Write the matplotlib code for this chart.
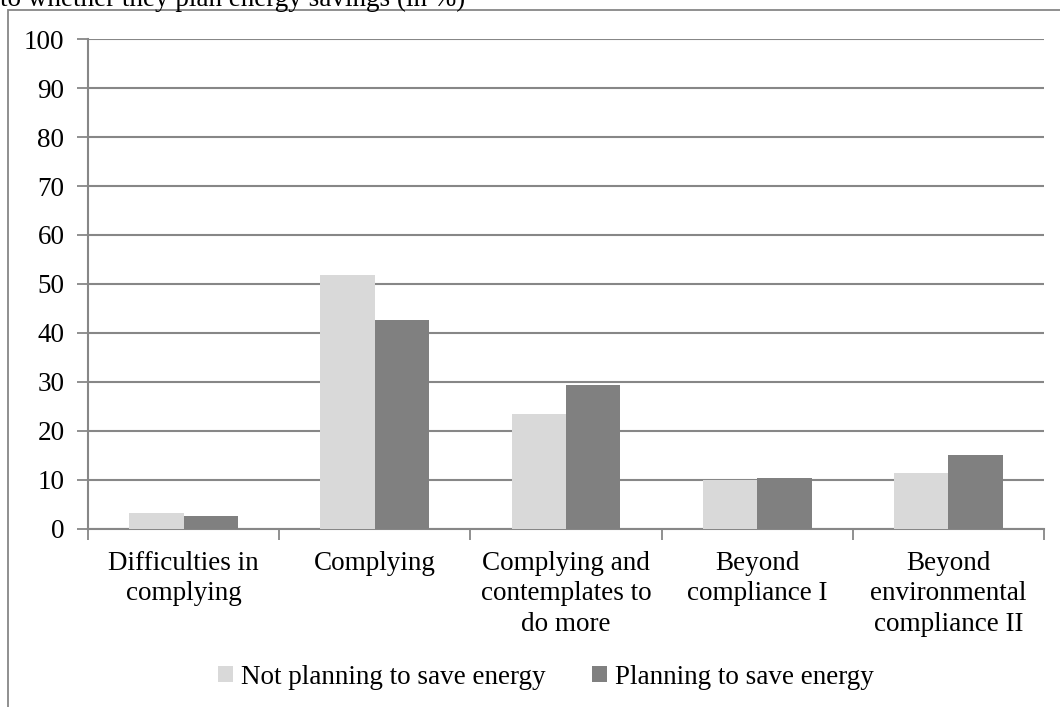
import numpy as np
import matplotlib.pyplot as plt
from matplotlib.patches import Rectangle

plt.rcParams['font.family'] = ['Liberation Serif', 'DejaVu Serif']

categories = ["Difficulties in\ncomplying", "Complying",
              "Complying and\ncontemplates to\ndo more", "Beyond\ncompliance I",
              "Beyond\nenvironmental\ncompliance II"]
not_planning = [3.2, 51.9, 23.4, 9.9, 11.3]
planning = [2.5, 42.6, 29.3, 10.4, 15.0]
series_names = ["Not planning to save energy", "Planning to save energy"]

W, H = 1060, 707
fs = 19.5
fig = plt.figure(figsize=(W / 100, H / 100), dpi=100)

# axes box in pixels: left 88, right 1044, top 39, bottom 528.5
ax = fig.add_axes([88 / W, 1 - 528.5 / H, (1044 - 88) / W, (528.5 - 39.3) / H])

# outer chart frame, clipped on the right and bottom in the source
fig.patches.append(Rectangle((8 / W, -0.1), 1.2, 1 - 10 / H + 0.1,
                             transform=fig.transFigure, fill=False,
                             edgecolor="#878787", linewidth=1.3))

# cut-off title line at the very top (only its lower half shows in the source)
fig.text(0.0, 1 - 6 / H, "to whether they plan energy savings (in %)",
         fontsize=fs, va="baseline", ha="left")

x = np.arange(len(categories))
bw = 0.285
ax.bar(x - bw / 2, not_planning, bw, color="#d9d9d9", label=series_names[0], zorder=3)
ax.bar(x + bw / 2, planning, bw, color="#808080", label=series_names[1], zorder=3)

ax.set_xlim(-0.5, len(categories) - 0.5)
ax.set_ylim(0, 100)
ax.set_yticks(range(0, 101, 10))
ax.yaxis.grid(True, color="#878787", linewidth=1.5, zorder=0)
ax.set_axisbelow(True)

ax.set_xticks(x)
ax.set_xticklabels(categories, fontsize=fs, linespacing=1.3)
ax.tick_params(axis="x", length=0, pad=16)
ax.set_xticks(np.arange(-0.5, len(categories)), minor=True)
ax.tick_params(axis="x", which="minor", length=8, width=1.3, color="#878787")
ax.tick_params(axis="y", labelsize=fs, length=8, width=1.3, color="#878787", pad=9)

for s in ["top", "right"]:
    ax.spines[s].set_visible(False)
for s in ["left", "bottom"]:
    ax.spines[s].set_color("#878787")
    ax.spines[s].set_linewidth(1.5)

fig.legend(loc="center", bbox_to_anchor=(546 / W, 1 - 677 / H), ncol=2,
           frameon=False, fontsize=fs, handlelength=0.55, handleheight=0.55,
           handletextpad=0.3, columnspacing=1.7)

fig.savefig("out.png", dpi=100)
